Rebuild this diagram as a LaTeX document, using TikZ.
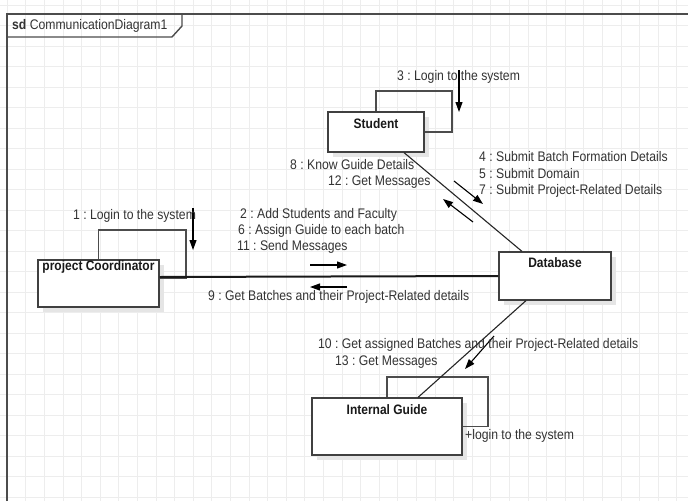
\documentclass[tikz,border=0pt]{standalone}
\usepackage{fontspec}
\setmainfont{Liberation Sans}
\usetikzlibrary{arrows.meta,shadows}
\frenchspacing
\begin{document}
\begin{tikzpicture}[x=1pt,y=-1pt,
  txt/.style={font=\fontsize{12.2}{14}\selectfont, text=black!80, inner sep=0pt, anchor=west, yscale=1.14},
  ttl/.style={font=\fontsize{12}{14}\selectfont\bfseries, text=black!90, inner sep=0pt, yscale=1.14},
  obj/.style={draw=black!75, line width=1.2pt, fill=white, inner sep=0pt,
    general shadow={fill=black!10, shadow xshift=5pt, shadow yshift=-5pt}},
  conn/.style={draw=black!85, line width=1.1pt},
  thickconn/.style={draw=black!90, line width=2pt},
  loopl/.style={draw=black!70, line width=1.1pt},
  msg/.style={draw=black, line width=1.1pt, -{Triangle[length=10pt,width=7pt]}},
  gridl/.style={draw=black!7, line width=0.6pt},
  frame/.style={draw=black!70, line width=1.4pt},
]
\fill[white] (0,0) rectangle (688,501);
\useasboundingbox (0,0) rectangle (688,501);
% grid
\foreach \i in {0,...,36} \draw[gridl] (7+\i*18.6,0) -- (7+\i*18.6,501);
\foreach \j in {0,...,24} \draw[gridl] (0,5.2+\j*20.5) -- (688,5.2+\j*20.5);
% frame
\draw[frame] (7,501) -- (7,14) -- (688,14);
\draw[frame] (182,14) -- (182,26) -- (172,37) -- (7,37);
\node[txt] (sd) at (12,25.5) {\textbf{sd} CommunicationDiagram1};

% objects
\node[obj, minimum width=96pt, minimum height=40pt] (stu) at (376,132) {};
\node[obj, minimum width=121pt, minimum height=47pt] (co) at (98.5,283.5) {};
\node[obj, minimum width=112pt, minimum height=48pt] (db) at (555,276) {};
\node[obj, minimum width=150pt, minimum height=57pt] (gu) at (387,426.5) {};

% self loops
\draw[loopl] (stu.north) |- (452,91) |- (stu.east);
\draw[loopl] (co.north) |- (186,230) |- ([yshift=5.5pt]co.east);
\draw[loopl] (gu.north) |- (488,377) |- (gu.east);

% titles
\node[ttl] (stuT) at ([yshift=-12pt]stu.north) {Student};
\node[ttl] (coT) at ([yshift=-8pt]co.north) {project Coordinator};
\node[ttl] (dbT) at ([yshift=-11pt]db.north) {Database};
\node[ttl] (guT) at ([yshift=-12pt]gu.north) {Internal Guide};

% links
\draw[thickconn] ([yshift=6.5pt]co.east) -- (db.west);
\draw[conn] ([xshift=28pt]stu.south) -- ([xshift=-33pt]db.north);
\draw[conn] ([xshift=-29pt]db.south) -- ([xshift=31pt]gu.north);

% message arrows
\coordinate (a3s) at (459,70);  \coordinate (a3e) at (459,112);
\draw[msg] (a3s) -- (a3e);
\coordinate (a1s) at (193,208); \coordinate (a1e) at (193,250);
\draw[msg] (a1s) -- (a1e);
\coordinate (r1s) at (310,265); \coordinate (r1e) at (347,265);
\draw[msg] (r1s) -- (r1e);
\coordinate (l1s) at (347,287); \coordinate (l1e) at (310,287);
\draw[msg] (l1s) -- (l1e);
\coordinate (d1s) at (454,181); \coordinate (d1e) at (483,204);
\draw[msg] (d1s) -- (d1e);
\coordinate (u1s) at (473,222); \coordinate (u1e) at (443,199);
\draw[msg] (u1s) -- (u1e);
\coordinate (g1s) at (494,336); \coordinate (g1e) at (465,369);
\draw[msg] (g1s) -- (g1e);

% labels
\node[txt] (m3) at (397,77) {3 : Login to the system};
\node[txt] (m1) at (73,216) {1 : Login to the system};
\node[txt] (m2) at (240,215) {2 : Add Students and Faculty};
\node[txt] (m6) at (238,231) {6 : Assign Guide to each batch};
\node[txt] (m11) at (237,247) {11 : Send Messages};
\node[txt] (m9) at (208,297) {9 : Get Batches and their Project-Related details};
\node[txt] (m8) at (290,165) {8 : Know Guide Details};
\node[txt] (m12) at (328,182) {12 : Get Messages};
\node[txt] (m4) at (479,157) {4 : Submit Batch Formation Details};
\node[txt] (m5) at (479,174) {5 : Submit Domain};
\node[txt] (m7) at (479,191) {7 : Submit Project-Related Details};
\node[txt] (m10) at (318,345) {10 : Get assigned Batches and their Project-Related details};
\node[txt] (m13) at (335,362) {13 : Get Messages};
\node[txt] (ml) at (465,436) {+login to the system};
\end{tikzpicture}
\end{document}
